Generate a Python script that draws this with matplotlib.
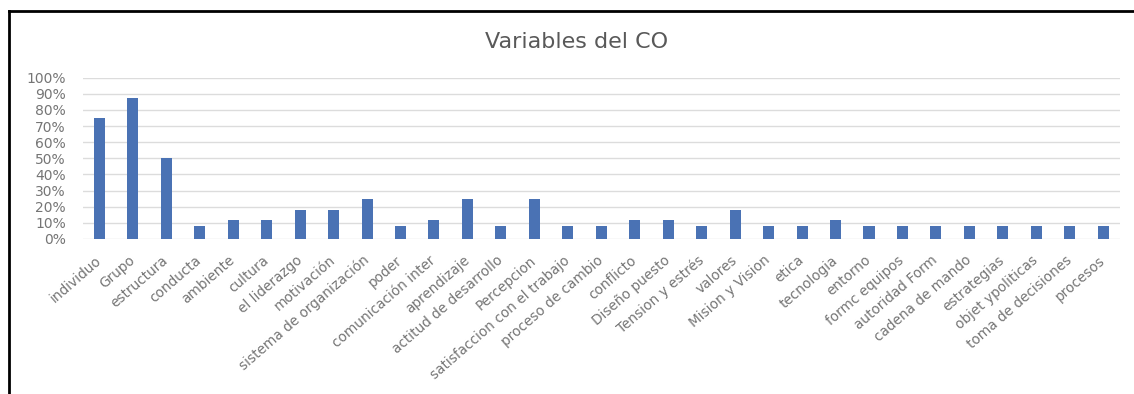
import matplotlib
matplotlib.use("Agg")
import matplotlib.pyplot as plt
from matplotlib.lines import Line2D
from matplotlib.ticker import PercentFormatter

categories = [
    "individuo", "Grupo", "estructura", "conducta", "ambiente", "cultura",
    "el liderazgo", "motivación", "sistema de organización", "poder",
    "comunicación inter", "aprendizaje", "actitud de desarrollo", "Percepcion",
    "satisfaccion con el trabajo", "proceso de cambio", "conflicto",
    "Diseño puesto", "Tension y estrés", "valores", "Mision y Vision", "etica",
    "tecnologia", "entorno", "formc equipos", "autoridad Form",
    "cadena de mando", "estrategias", "objet ypoliticas", "toma de decisiones",
    "procesos",
]
values = [
    0.75, 0.875, 0.50, 0.08, 0.12, 0.12,
    0.18, 0.18, 0.25, 0.08,
    0.12, 0.25, 0.08, 0.25,
    0.08, 0.08, 0.12,
    0.12, 0.08, 0.18, 0.08, 0.08,
    0.12, 0.08, 0.08, 0.08,
    0.08, 0.08, 0.08, 0.08,
    0.08,
]
y_ticks = [i / 10 for i in range(11)]
title = "Variables del CO"

W, H = 1134, 394
fig = plt.figure(figsize=(W / 100, H / 100), dpi=100)

ax_left, ax_right = 82.6, 1120.0
ax_bottom, ax_top = H - 239.0, H - 77.7
ax = fig.add_axes([ax_left / W, ax_bottom / H,
                   (ax_right - ax_left) / W, (ax_top - ax_bottom) / H])

bar_color = "#4a72b4"
text_color = "#757575"
grid_color = "#dcdcdc"

x = list(range(len(categories)))
ax.bar(x, values, width=0.33, color=bar_color, zorder=3)

ax.set_xlim(-0.5, len(categories) - 0.5)
ax.set_ylim(0, 1.0)
ax.set_yticks(y_ticks)
ax.yaxis.set_major_formatter(PercentFormatter(1.0, decimals=0))
ax.grid(axis="y", color=grid_color, linewidth=1.0, zorder=0)
ax.set_axisbelow(True)
for s in ax.spines.values():
    s.set_visible(False)

ax.tick_params(axis="y", length=0, pad=12, labelsize=10, labelcolor=text_color)
ax.tick_params(axis="x", length=0, pad=14, labelsize=9.8, labelcolor=text_color)
ax.set_xticks(x)
ax.set_xticklabels(categories, rotation=41, ha="right", va="center",
                   rotation_mode="anchor")

fig.text(577 / W, 1 - 42 / H, title, ha="center", va="center",
         fontsize=16, color="#595959")

# frame around the chart area (open on the right and bottom)
fig.add_artist(Line2D([8.5 / W, 8.5 / W], [0, 1 - 10.5 / H],
                      transform=fig.transFigure, color="black", linewidth=2))
fig.add_artist(Line2D([8.5 / W, 1.0], [1 - 10.5 / H, 1 - 10.5 / H],
                      transform=fig.transFigure, color="black", linewidth=2))

fig.savefig("out.png", dpi=100)
